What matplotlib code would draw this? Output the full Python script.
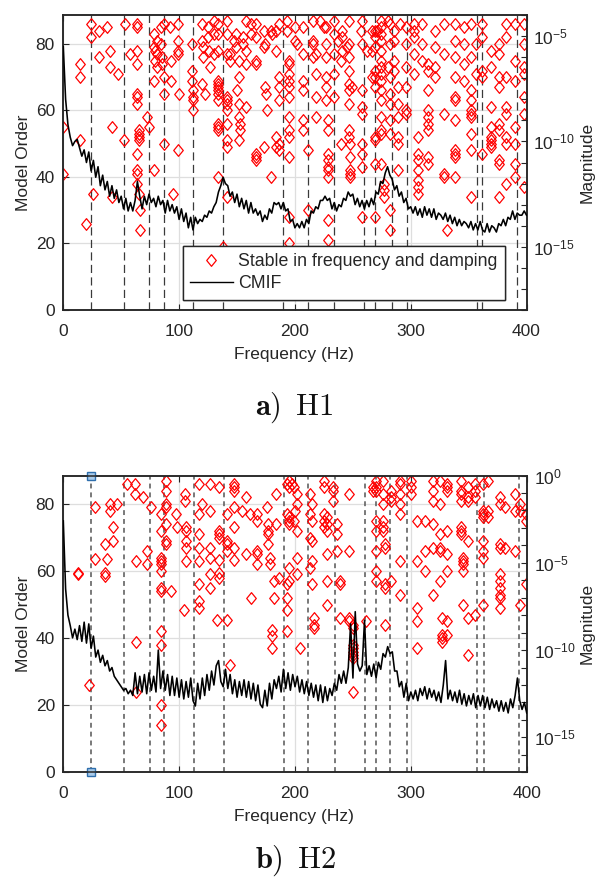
import numpy as np
import matplotlib
matplotlib.use('Agg')
import matplotlib.pyplot as plt
from matplotlib.path import Path
from matplotlib.ticker import FixedLocator, FixedFormatter, NullFormatter
from matplotlib.lines import Line2D

plt.rcParams['font.family'] = ['Liberation Sans', 'DejaVu Sans']
plt.rcParams['mathtext.fontset'] = 'custom'
plt.rcParams['mathtext.rm'] = 'Liberation Sans'
plt.rcParams['mathtext.it'] = 'Liberation Sans:italic'
plt.rcParams['mathtext.bf'] = 'Liberation Sans:bold'

# ---------------- data ----------------
# identified modes (vertical dashed lines), Hz
h1_mode_freqs = [24, 52, 74.4, 87, 112.4, 137.8, 189.7, 211, 234, 259.5, 269.5, 284, 297, 357.4, 362, 392]
h2_mode_freqs = [24, 52, 75, 87, 112.4, 138.3, 190.2, 211.3, 234.6, 260.8, 269.5, 282.4, 296.9, 357.4, 363, 393.4]

# stable poles: frequency (Hz) and list of model orders at that frequency
h1_stable_freqs = [0, 14, 20, 24, 26, 31, 38, 40, 42, 47, 52, 53, 58, 64, 65, 66, 72, 74, 78, 79, 81, 84, 85, 87,
                   92, 93, 95, 99, 100, 111, 112, 120, 121, 122, 125, 126, 127, 130, 134, 138, 141, 144, 147, 149,
                   150, 152, 153, 155, 158, 162, 166, 173, 174, 175, 176, 179, 180, 184, 186, 193, 195, 200, 202,
                   207, 211, 216, 218, 222, 225, 227, 229, 234, 237, 240, 241, 245, 247, 248, 249, 257, 258, 262,
                   267, 269, 271, 274, 277, 280, 282, 286, 289, 291, 296, 303, 306, 310, 315, 321, 329, 331, 338,
                   346, 352, 356, 362, 369, 376, 382, 390, 398]
h1_stable_orders = [[55, 41], [74, 70, 51], [26], [86, 82], [35], [84, 76], [85], [78, 73], [55, 34], [71], [51],
                    [86], [77], [86, 85, 78, 74, 65, 64, 62, 47, 42, 41, 38], [54, 53, 52, 51, 35], [30, 24], [58],
                    [55], [83, 79, 69, 42], [78, 75], [81, 77, 73], [85, 80], [76, 74], [86, 70, 65, 50],
                    [85], [75, 69], [35], [86, 81, 78, 77, 48], [65], [80, 72, 69], [66, 64, 63, 60], [86, 81, 68],
                    [79, 76], [65], [85, 82], [78], [73], [87, 83, 77],
                    [86, 83, 78, 69, 68, 67, 66, 65, 63, 56, 55, 54, 40], [19],
                    [87, 83, 77, 64, 63, 62, 60, 56, 51, 49, 34], [77, 75], [81], [83, 79],
                    [66], [75, 70, 62, 58, 51], [54, 56], [82, 80], [87, 78, 61, 74], [86, 83],
                    [86, 82, 75, 74, 47, 46, 45], [84, 79, 49], [80, 67], [65], [60], [84, 40], [83],
                    [84, 78, 52, 49], [86, 70, 67, 63, 50, 48], [87, 84],
                    [75, 74, 71, 69, 67, 64, 58, 54, 52, 46, 28, 20], [85, 81], [80],
                    [85, 77, 69, 66, 57, 54], [48, 30], [87, 81, 80, 76], [77, 71, 64, 58], [87], [85],
                    [85, 80, 76, 70, 67, 63], [57, 54, 47, 45, 43, 42, 40, 21, 27], [87, 83, 77, 71, 64], [81],
                    [50, 75], [84, 82, 78], [79], [87, 80, 76, 72, 68, 66, 62, 54, 52], [50, 46, 42, 41, 40], [67],
                    [84], [87, 80, 66, 61, 59, 50, 47, 43, 28], [78],
                    [84, 78, 70], [84, 82, 79, 72, 70, 67, 52, 51, 44, 28], [84],
                    [87, 85, 83, 81, 78, 75, 73, 71, 69, 66, 63, 58, 54, 53, 44], [38, 36, 34], [87, 73],
                    [86, 80, 70, 65, 62, 57, 53, 30, 24], [84, 81, 75, 72], [67, 62, 58, 52, 50, 42], [86],
                    [85, 80, 73, 67, 60, 59], [86, 84, 82, 77, 71], [52, 47, 45, 42, 39, 37, 35], [86, 80, 75],
                    [74, 72, 66, 60, 58, 56, 54, 46, 44], [84, 79, 73, 70], [86, 77, 59, 41, 40], [24],
                    [86, 81, 76, 70, 64, 63, 57, 48, 47, 46, 40],
                    [85, 80, 74, 69], [86, 76, 66, 63, 60, 59, 58, 53, 48, 34], [80, 71], [86, 82, 72, 70, 47],
                    [78, 73, 61, 55, 52, 51, 50, 49], [80, 77, 70, 67, 56, 54, 45, 44, 34],
                    [86, 82, 70, 61, 59, 52, 50, 38], [86, 75, 69, 55, 50, 44, 40], [86, 80, 73, 71, 64, 59, 37]]

h2_stable_freqs = [13, 22, 27, 36, 38, 40, 43, 46, 55, 62, 63, 69, 72, 76, 84, 89, 93, 97, 98, 104, 105, 106, 117,
                   120, 127, 133, 134, 141, 144, 147, 154, 158, 161, 162, 167, 176, 177, 178, 180, 182, 184, 186,
                   193, 195, 197, 199, 200, 202, 204, 213, 215, 216, 225, 228, 233, 236, 239, 247, 250, 261, 267,
                   270, 276, 278, 283, 291, 300, 305, 312, 319, 325, 327, 331, 343, 345, 349, 355, 362, 367, 377,
                   381, 390, 394, 399]
h2_stable_orders = [[59.4, 59], [26], [79, 63.6], [68, 59.4, 58.4], [63.6], [80, 78], [73, 69], [80], [86],
                    [86, 83], [63, 39, 24], [82], [66, 62], [79],
                    [77, 72, 64, 63, 62, 60, 55, 54, 42, 38, 20, 14], [87, 84, 80, 79, 74, 69, 68], [54], [77],
                    [73], [48.5], [83, 81], [73, 72, 69, 67, 63], [86, 77, 71, 67, 63, 56, 51, 49],
                    [80], [86, 78, 67, 64, 59, 55], [45.5], [85, 72, 71, 70, 63.4, 59.4, 58],
                    [77, 69, 68, 66, 45.5], [32], [86, 85, 84, 79, 73, 67, 63.4], [78], [82, 65], [77], [52],
                    [77, 75, 66, 65, 62], [79], [74, 72, 71, 68], [64, 62], [42.5, 40.5, 37], [57, 52], [83, 74],
                    [58], [86, 77, 56, 52, 48.5, 42], [87, 85, 76, 75, 74, 61, 57], [86], [85, 75], [78],
                    [83, 80, 72, 64, 59], [37], [83, 77, 70, 61], [80, 75, 69, 63, 56], [46, 44, 43],
                    [87, 85, 77, 75, 73], [76, 74, 72, 65, 57, 50], [85, 84, 81], [74, 71, 66], [57, 56, 46],
                    [83, 66, 46, 45], [44, 43, 38, 37, 36, 35, 34, 24], [45], [85, 84],
                    [87, 85, 84, 75, 72, 66, 60, 57], [87, 83, 80, 75, 73, 72], [68, 67, 56, 55, 44],
                    [84, 82, 81, 57], [87, 86, 83, 80, 77, 63, 53], [87, 85, 83], [75, 63, 49, 45, 37],
                    [75, 66, 60], [87, 84, 81, 74, 67, 53], [87, 80, 71, 67, 66, 57], [46, 41, 40, 39],
                    [86, 85, 84, 72, 65, 60, 45, 41], [87, 84, 83, 81, 73, 72, 71], [64, 63, 62, 60, 50],
                    [85, 82, 81, 69, 46, 35], [86, 84, 82, 47], [86, 78, 77, 76, 69, 66, 64, 50], [87, 78, 76],
                    [82, 80, 68, 67, 59, 57, 55, 53, 52, 49], [79, 67], [83, 78, 66], [80, 78, 50], [77, 75, 56]]

# CMIF, log10(magnitude), sampled every 2 Hz from 0 to 400 Hz
h1_cmif_log10 = [
    -5.5, -8.0, -9.2, -9.8, -10.2, -10.0, -9.9, -10.3, -10.7, -10.4,
    -11.0, -10.5, -11.4, -10.9, -11.7, -11.2, -12.1, -11.6, -12.3, -11.9,
    -12.6, -12.1, -12.7, -12.3, -12.9, -12.6, -13.2, -12.7, -13.3, -12.9,
    -13.3, -12.8, -11.9, -12.6, -13.2, -12.6, -13.0, -12.5, -12.9, -12.7,
    -13.1, -12.6, -13.0, -12.8, -13.4, -12.8, -13.3, -13.0, -13.4, -13.1,
    -13.7, -13.2, -13.8, -13.4, -14.1, -13.6, -14.2, -13.6, -13.9, -13.7,
    -13.8, -13.5, -13.6, -13.3, -13.4, -13.1, -12.9, -12.4, -12.1, -11.7,
    -12.0, -12.1, -12.6, -12.4, -12.9, -12.5, -13.1, -12.7, -13.2, -12.8,
    -13.4, -12.9, -13.4, -13.2, -13.5, -13.3, -13.8, -13.5, -13.7, -13.2,
    -13.4, -12.9, -13.0, -12.9, -13.2, -12.9, -13.3, -13.2, -13.8, -13.7,
    -14.1, -13.9, -14.1, -13.8, -14.1, -13.7, -13.9, -13.3, -13.4, -13.1,
    -13.2, -12.8, -12.8, -12.6, -12.8, -12.7, -13.2, -12.9, -13.3, -13.0,
    -13.1, -12.7, -12.8, -12.4, -12.6, -12.5, -13.0, -12.7, -13.1, -12.8,
    -13.2, -12.8, -13.1, -12.7, -13.0, -12.4, -12.5, -11.9, -12.0, -11.5,
    -11.2, -11.6, -11.8, -12.3, -12.1, -12.6, -12.4, -12.9, -12.7, -13.2,
    -13.1, -13.4, -13.1, -13.5, -13.2, -13.6, -13.1, -13.5, -13.2, -13.6,
    -13.2, -13.7, -13.4, -13.5, -13.7, -13.4, -13.8, -13.5, -13.9, -13.6,
    -14.0, -13.7, -14.0, -13.8, -13.9, -14.1, -13.8, -14.2, -13.9, -14.2,
    -13.8, -14.2, -14.3, -13.9, -14.3, -14.0, -14.1, -14.3, -13.9, -14.0,
    -13.7, -14.0, -13.6, -13.7, -13.3, -13.7, -13.4, -13.5, -13.5, -13.3,
    -13.5]

h2_cmif_log10 = [
    -2.6, -6.5, -8.0, -8.6, -9.3, -8.8, -9.4, -8.6, -9.5, -8.4,
    -9.6, -8.5, -9.9, -9.2, -10.4, -10.0, -10.7, -10.3, -10.9, -10.6,
    -11.2, -11.0, -11.5, -11.7, -11.9, -12.1, -12.3, -12.2, -12.5, -12.3,
    -12.6, -11.3, -12.5, -11.5, -12.4, -11.4, -12.5, -11.3, -12.3, -11.5,
    -12.4, -10.0, -12.2, -11.2, -12.3, -11.4, -12.6, -11.5, -12.6, -11.6,
    -12.7, -11.7, -12.8, -11.8, -12.7, -11.6, -12.9, -13.2, -11.9, -12.8,
    -11.6, -12.6, -11.4, -12.3, -11.2, -12.0, -10.9, -10.6, -11.8, -12.1,
    -11.1, -12.2, -11.4, -12.5, -11.7, -12.7, -11.8, -12.6, -11.7, -12.7,
    -11.8, -12.8, -11.9, -12.9, -12.0, -13.1, -13.3, -12.3, -13.2, -11.9,
    -12.8, -11.7, -12.2, -11.5, -12.4, -11.1, -12.2, -11.3, -12.3, -11.4,
    -12.1, -11.5, -12.4, -11.7, -12.5, -11.8, -12.6, -11.9, -12.7, -12.0,
    -12.9, -12.0, -13.0, -12.1, -12.9, -12.2, -12.6, -11.9, -12.3, -11.4,
    -11.9, -11.2, -11.9, -11.0, -8.5, -11.6, -7.8, -10.8, -11.2, -10.9,
    -8.3, -11.4, -10.9, -11.5, -10.8, -11.6, -10.7, -11.1, -10.2, -10.4,
    -9.8, -10.2, -10.1, -11.2, -11.2, -12.1, -11.8, -12.7, -11.9, -12.9,
    -12.4, -12.8, -12.3, -12.9, -12.2, -12.6, -12.1, -12.8, -12.2, -12.7,
    -12.3, -12.9, -12.4, -13.0, -12.0, -10.6, -12.8, -12.3, -12.9, -12.4,
    -13.0, -12.3, -13.1, -12.5, -13.2, -12.6, -13.1, -12.5, -13.3, -12.6,
    -13.2, -12.6, -13.3, -12.7, -13.4, -12.8, -13.3, -12.9, -13.5, -12.9,
    -13.5, -13.0, -13.6, -12.8, -13.3, -12.6, -11.6, -12.9, -13.4, -13.0,
    -13.6]

h2_marker_freq = 24

# ---------------- styling ----------------
FS = 12.5
FS_LEG = 12.8
TXT = '#262626'
diamond = Path([(0, 1), (0.82, 0), (0, -1), (-0.82, 0), (0, 1)],
               [Path.MOVETO, Path.LINETO, Path.LINETO, Path.LINETO, Path.CLOSEPOLY])

fig = plt.figure(figsize=(5.98, 8.81), dpi=100)
W, H = 598.0, 881.0


def panel(left_px, right_px, top_px, bottom_px, order_top, mag_lim, mag_major, mag_minor,
          mode_freqs, s_freqs, s_orders, cmif, dash, dash_color, dash_lw):
    ax = fig.add_axes([left_px / W, 1 - bottom_px / H, (right_px - left_px) / W, (bottom_px - top_px) / H])
    ax.set_xlim(0, 400)
    ax.set_ylim(0, order_top)
    ax.set_xticks([0, 100, 200, 300, 400])
    ax.set_yticks([0, 20, 40, 60, 80])
    ax.grid(True, color='#dedede', lw=0.9)
    ax.set_axisbelow(True)
    for f in mode_freqs:
        ax.axvline(f, color=dash_color, lw=dash_lw, dashes=dash, zorder=1.5)
    xs = [f for f, os in zip(s_freqs, s_orders) for _ in os]
    ys = [o for os in s_orders for o in os]
    ax.plot(xs, ys, ls='none', marker=diamond, ms=8.4, mfc='none', mec='#ff0000', mew=0.9, zorder=2)
    ax.tick_params(direction='in', top=True, right=False, length=4, width=0.8,
                   labelsize=FS, colors=TXT)
    ax.tick_params(axis='x', pad=10)
    ax.tick_params(axis='y', pad=6)
    ax.set_xlabel('Frequency (Hz)', fontsize=FS, color=TXT)
    ax.set_ylabel('Model Order', fontsize=FS, color=TXT)
    ax.xaxis.set_label_coords(0.498, -0.125)
    ax.yaxis.set_label_coords(-0.07, 0.5)
    for sp in ax.spines.values():
        sp.set_color(TXT)
        sp.set_linewidth(1.1)

    ax2 = ax.twinx()
    ax2.set_yscale('log')
    ax2.set_ylim(*mag_lim)
    freq = np.linspace(0, 400, len(cmif))
    ax2.plot(freq, 10.0 ** np.array(cmif), color='k', lw=1.15, zorder=3)
    ax2.yaxis.set_major_locator(FixedLocator(mag_major))
    ax2.yaxis.set_major_formatter(FixedFormatter(['$10^{%d}$' % int(round(np.log10(v))) for v in mag_major]))
    ax2.yaxis.set_minor_locator(FixedLocator(mag_minor))
    ax2.yaxis.set_minor_formatter(NullFormatter())
    ax2.tick_params(which='both', direction='in', length=4, width=0.8, labelsize=FS, colors=TXT, pad=5)
    ax2.set_ylabel('Magnitude', fontsize=FS, color=TXT)
    ax2.yaxis.set_label_coords(1.115, 0.5)
    for sp in ax2.spines.values():
        sp.set_color(TXT)
        sp.set_linewidth(1.1)

    handles = [Line2D([], [], ls='none', marker=diamond, ms=8.4, mfc='none', mec='#ff0000', mew=0.9),
               Line2D([], [], color='k', lw=1.0)]
    leg = ax2.legend(handles, ['Stable in frequency and damping', 'CMIF'],
                     loc='upper left', bbox_to_anchor=((183 - left_px) / (right_px - left_px),
                                                       (bottom_px - 246) / (bottom_px - top_px)),
                     fontsize=FS_LEG, frameon=True, fancybox=False, framealpha=1, edgecolor=TXT,
                     borderpad=0.4, labelspacing=0.3, handlelength=2.4, handletextpad=0.3,
                     borderaxespad=0)
    leg.get_frame().set_linewidth(1.0)
    for t in leg.get_texts():
        t.set_color(TXT)
    return ax, ax2


# top panel (H1)
panel(63.3, 526.5, 15, 310, 88.7, (1e-18, 1e-4), [1e-15, 1e-10, 1e-5],
      [10.0 ** k for k in range(-18, -3)], h1_mode_freqs, h1_stable_freqs, h1_stable_orders,
      h1_cmif_log10, (6.5, 3.5), '#3a3a3a', 0.9)

# bottom panel (H2)
axb, _ = panel(63.3, 526.7, 475.5, 772.3, 88.5, (1e-17, 1e0), [1e-15, 1e-10, 1e-5, 1e0],
               [10.0 ** k for k in range(-17, 1)], h2_mode_freqs, h2_stable_freqs, h2_stable_orders,
               h2_cmif_log10, (3.2, 2.6), '#555555', 1.1)
axb.plot([h2_marker_freq, h2_marker_freq], [0, 88.5], ls='none', marker='s', ms=5.5,
         mfc='#a9cbea', mec='#2f6fad', mew=1.0, clip_on=False, zorder=6)

# captions
fig.text(0.492, 1 - 408 / H, r'$\mathbf{a)}\ \,\mathrm{H1}$', fontsize=22, ha='center', va='center',
         math_fontfamily='cm', color='#111111')
fig.text(0.494, 1 - 861 / H, r'$\mathbf{b)}\ \,\mathrm{H2}$', fontsize=22, ha='center', va='center',
         math_fontfamily='cm', color='#111111')

fig.savefig('out.png', dpi=100)
